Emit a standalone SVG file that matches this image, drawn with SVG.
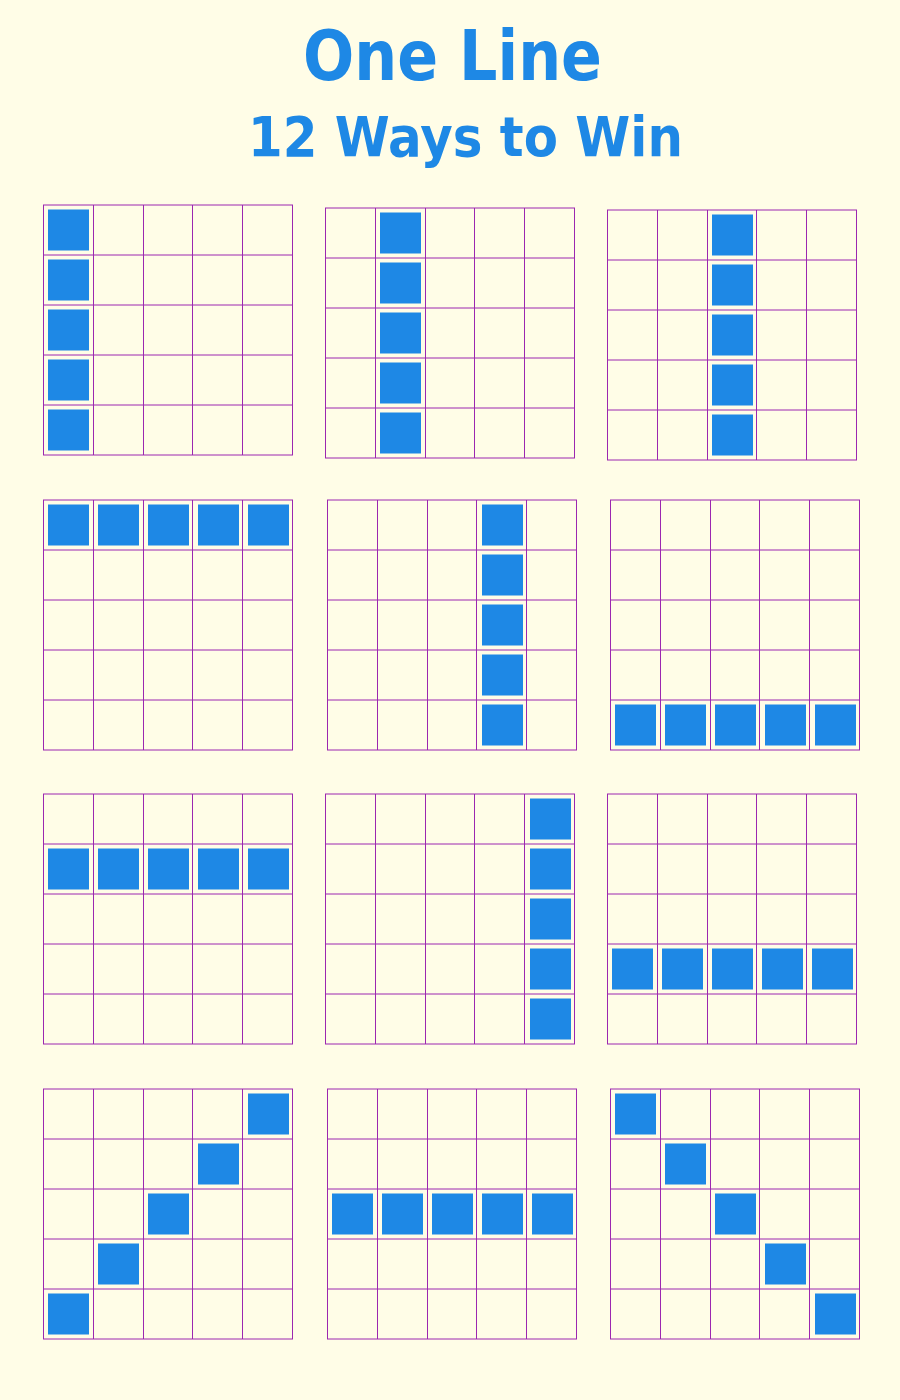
<svg xmlns="http://www.w3.org/2000/svg" xmlns:xlink="http://www.w3.org/1999/xlink" width="900" height="1400" viewBox="0 0 900 1400">
  <style>
    .title { font-family: "DejaVu Sans", "Liberation Sans", sans-serif; font-weight: bold; fill: #1e88e5; text-anchor: middle; }
    .h { stroke: #9c27b0; stroke-width: 1; }
    .v { stroke: #9c27b0; stroke-width: 1; }
    .cell { fill: #1e88e5; }
  </style>
  <defs>
    <g id="grid">
      <line class="h" x1="0" y1="0" x2="250" y2="0"/>
      <line class="h" x1="0" y1="50" x2="250" y2="50"/>
      <line class="h" x1="0" y1="100" x2="250" y2="100"/>
      <line class="h" x1="0" y1="150" x2="250" y2="150"/>
      <line class="h" x1="0" y1="200" x2="250" y2="200"/>
      <line class="h" x1="0" y1="250" x2="250" y2="250"/>
      <line class="v" x1="0.5" y1="0" x2="0.5" y2="250"/>
      <line class="v" x1="50.5" y1="0" x2="50.5" y2="250"/>
      <line class="v" x1="100.5" y1="0" x2="100.5" y2="250"/>
      <line class="v" x1="149.5" y1="0" x2="149.5" y2="250"/>
      <line class="v" x1="199.5" y1="0" x2="199.5" y2="250"/>
      <line class="v" x1="249.5" y1="0" x2="249.5" y2="250"/>
    </g>
    <rect id="sq" class="cell" x="5" y="4.5" width="41" height="41"/>
  </defs>
  <rect x="0" y="0" width="900" height="1400" fill="#fffde7"/>

  <g id="title">
    <text class="title" x="452.5" y="80" font-size="70" textLength="299" lengthAdjust="spacingAndGlyphs">One Line</text>
    <text class="title" x="465.5" y="156" font-size="56" textLength="435" lengthAdjust="spacingAndGlyphs">12 Ways to Win</text>
  </g>

  <g id="board1" transform="translate(43,205)">
    <use href="#grid"/>
    <use href="#sq" x="0" y="0"/><use href="#sq" x="0" y="50"/><use href="#sq" x="0" y="100"/><use href="#sq" x="0" y="150"/><use href="#sq" x="0" y="200"/>
  </g>
  <g id="board2" transform="translate(325,208)">
    <use href="#grid"/>
    <use href="#sq" x="50" y="0"/><use href="#sq" x="50" y="50"/><use href="#sq" x="50" y="100"/><use href="#sq" x="50" y="150"/><use href="#sq" x="50" y="200"/>
  </g>
  <g id="board3" transform="translate(607,210)">
    <use href="#grid"/>
    <use href="#sq" x="100" y="0"/><use href="#sq" x="100" y="50"/><use href="#sq" x="100" y="100"/><use href="#sq" x="100" y="150"/><use href="#sq" x="100" y="200"/>
  </g>

  <g id="board4" transform="translate(43,500)">
    <use href="#grid"/>
    <use href="#sq" x="0" y="0"/><use href="#sq" x="50" y="0"/><use href="#sq" x="100" y="0"/><use href="#sq" x="150" y="0"/><use href="#sq" x="200" y="0"/>
  </g>
  <g id="board5" transform="translate(327,500)">
    <use href="#grid"/>
    <use href="#sq" x="150" y="0"/><use href="#sq" x="150" y="50"/><use href="#sq" x="150" y="100"/><use href="#sq" x="150" y="150"/><use href="#sq" x="150" y="200"/>
  </g>
  <g id="board6" transform="translate(610,500)">
    <use href="#grid"/>
    <use href="#sq" x="0" y="200"/><use href="#sq" x="50" y="200"/><use href="#sq" x="100" y="200"/><use href="#sq" x="150" y="200"/><use href="#sq" x="200" y="200"/>
  </g>

  <g id="board7" transform="translate(43,794)">
    <use href="#grid"/>
    <use href="#sq" x="0" y="50"/><use href="#sq" x="50" y="50"/><use href="#sq" x="100" y="50"/><use href="#sq" x="150" y="50"/><use href="#sq" x="200" y="50"/>
  </g>
  <g id="board8" transform="translate(325,794)">
    <use href="#grid"/>
    <use href="#sq" x="200" y="0"/><use href="#sq" x="200" y="50"/><use href="#sq" x="200" y="100"/><use href="#sq" x="200" y="150"/><use href="#sq" x="200" y="200"/>
  </g>
  <g id="board9" transform="translate(607,794)">
    <use href="#grid"/>
    <use href="#sq" x="0" y="150"/><use href="#sq" x="50" y="150"/><use href="#sq" x="100" y="150"/><use href="#sq" x="150" y="150"/><use href="#sq" x="200" y="150"/>
  </g>

  <g id="board10" transform="translate(43,1089)">
    <use href="#grid"/>
    <use href="#sq" x="200" y="0"/><use href="#sq" x="150" y="50"/><use href="#sq" x="100" y="100"/><use href="#sq" x="50" y="150"/><use href="#sq" x="0" y="200"/>
  </g>
  <g id="board11" transform="translate(327,1089)">
    <use href="#grid"/>
    <use href="#sq" x="0" y="100"/><use href="#sq" x="50" y="100"/><use href="#sq" x="100" y="100"/><use href="#sq" x="150" y="100"/><use href="#sq" x="200" y="100"/>
  </g>
  <g id="board12" transform="translate(610,1089)">
    <use href="#grid"/>
    <use href="#sq" x="0" y="0"/><use href="#sq" x="50" y="50"/><use href="#sq" x="100" y="100"/><use href="#sq" x="150" y="150"/><use href="#sq" x="200" y="200"/>
  </g>
</svg>
